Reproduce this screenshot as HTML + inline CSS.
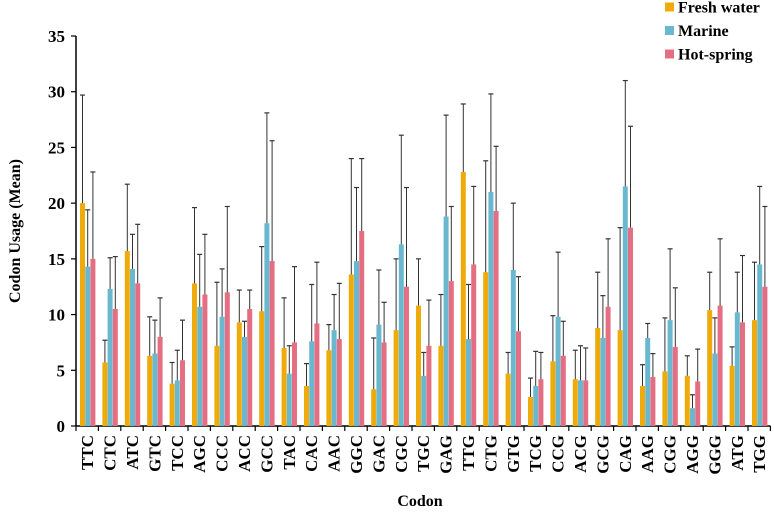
<!DOCTYPE html>
<html><head><meta charset="utf-8"><style>
body{margin:0;background:#fff}
svg text{font-family:"Liberation Serif",serif;font-weight:bold;fill:#000}
</style></head><body>
<svg id="c" width="774" height="510" xmlns="http://www.w3.org/2000/svg"></svg>
<script>
const categories=["TTC","CTC","ATC","GTC","TCC","AGC","CCC","ACC","GCC","TAC","CAC","AAC","GGC","GAC","CGC","TGC","GAG","TTG","CTG","GTG","TCG","CCG","ACG","GCG","CAG","AAG","CGG","AGG","GGG","ATG","TGG"];
const freshWater=[20,5.7,15.7,6.3,3.8,12.8,7.2,9.3,10.3,7,3.6,6.8,13.6,3.3,8.6,10.8,7.2,22.8,13.8,4.7,2.6,5.8,4.2,8.8,8.6,3.6,4.9,4.5,10.4,5.4,9.5];
const freshErr=[29.7,7.7,21.7,9.8,5.7,19.6,12.9,12.2,16.1,11.5,5.6,9.1,24,7.9,15,15,11.8,28.9,23.8,6.6,4.3,9.9,6.8,13.8,17.8,5.5,9.7,6.3,13.8,7.1,14.7];
const marine=[14.3,12.3,14.1,6.5,4.1,10.7,9.8,8,18.2,4.7,7.6,8.6,14.8,9.1,16.3,4.5,18.8,7.8,21,14,3.6,9.8,4.1,7.9,21.5,7.9,9.5,1.6,6.5,10.2,14.5];
const marineErr=[19.4,15.1,17.2,9.5,6.8,15.4,14.1,9.4,28.1,7.2,12.7,11.8,21.4,14,26.1,6.6,27.9,12.7,29.8,20,6.7,15.6,7.2,11.7,31,9.2,15.9,2.8,9.7,13.8,21.5];
const hotSpring=[15,10.5,12.8,8,5.9,11.8,12,10.5,14.8,7.5,9.2,7.8,17.5,7.5,12.5,7.2,13,14.5,19.3,8.5,4.2,6.3,4.1,10.7,17.8,4.4,7.1,4,10.8,9.3,12.5];
const hotErr=[22.8,15.2,18.1,11.5,9.5,17.2,19.7,12.2,25.6,14.3,14.7,12.8,24,11.1,21.4,11.3,19.7,21.5,25.1,13.4,6.6,9.4,7,16.8,26.9,6.5,12.4,6.9,16.8,15.3,19.7];
const yTicks=[0,5,10,15,20,25,30,35];
const seriesNames=["Fresh water","Marine","Hot-spring"];
const colors=["#efab0b","#6ab8cf","#e46e82"];

const svg=document.getElementById('c');
const NS="http://www.w3.org/2000/svg";
const x0=76,gw=22.4,y0=426,ppu=390/35;
const yS=v=>y0-v*ppu;
const xS=i=>x0+i*gw;
function mk(t,a,p){const e=document.createElementNS(NS,t);for(const k in a)e.setAttribute(k,a[k]);(p||svg).appendChild(e);return e;}

const ax=mk('g',{});


mk('line',{x1:x0,y1:yS(35),x2:x0,y2:y0,stroke:'#000','stroke-width':1.5},ax);
mk('line',{x1:x0,y1:y0,x2:xS(categories.length),y2:y0,stroke:'#000','stroke-width':1.5},ax);
yTicks.forEach(v=>{
  mk('line',{x1:x0-5,y1:yS(v),x2:x0,y2:yS(v),stroke:'#000','stroke-width':1.2},ax);
  const t=mk('text',{x:x0-11,y:yS(v)+6,'text-anchor':'end','font-size':17});
  t.textContent=v;
  
  
});
for(let i=0;i<=categories.length;i++)mk('line',{x1:xS(i),y1:y0,x2:xS(i),y2:y0+5,stroke:'#000','stroke-width':1.2},ax);

const vals=[freshWater,marine,hotSpring],errs=[freshErr,marineErr,hotErr];
categories.forEach((c,i)=>{
  const g=mk('g',{});
  
  
  for(let s=0;s<3;s++){
    const bx=xS(i)+4+s*5.2,w=5;
    const r=mk('rect',{x:bx,y:yS(vals[s][i]),width:w,height:vals[s][i]*ppu,fill:colors[s]},g);
    
    
    const cx=bx+w/2,ey=yS(errs[s][i]);
    mk('line',{x1:cx,y1:ey,x2:cx,y2:yS(vals[s][i]),stroke:'#333','stroke-width':1},g);
    mk('line',{x1:cx-2.5,y1:ey,x2:cx+2.5,y2:ey,stroke:'#333','stroke-width':1.2},g);
  }
  const t=mk('text',{transform:`translate(${xS(i)+gw/2+6},${y0+9}) rotate(-90)`,'text-anchor':'end','font-size':17});
  t.textContent=c;
  
  
});

const yt=mk('text',{transform:'translate(20,231) rotate(-90)','text-anchor':'middle','font-size':16});
yt.textContent='Codon Usage (Mean)';


const xt=mk('text',{x:420,y:506,'text-anchor':'middle','font-size':16});
xt.textContent='Codon';



seriesNames.forEach((n,s)=>{
  const g=mk('g',{});
  
  
  const cy=7+s*23.5;
  mk('rect',{x:665,y:cy-4.5,width:9,height:9,fill:colors[s]},g);
  const t=mk('text',{x:678,y:cy+5.5,'font-size':16},g);
  t.textContent=n;
});
</script>
</body></html>
